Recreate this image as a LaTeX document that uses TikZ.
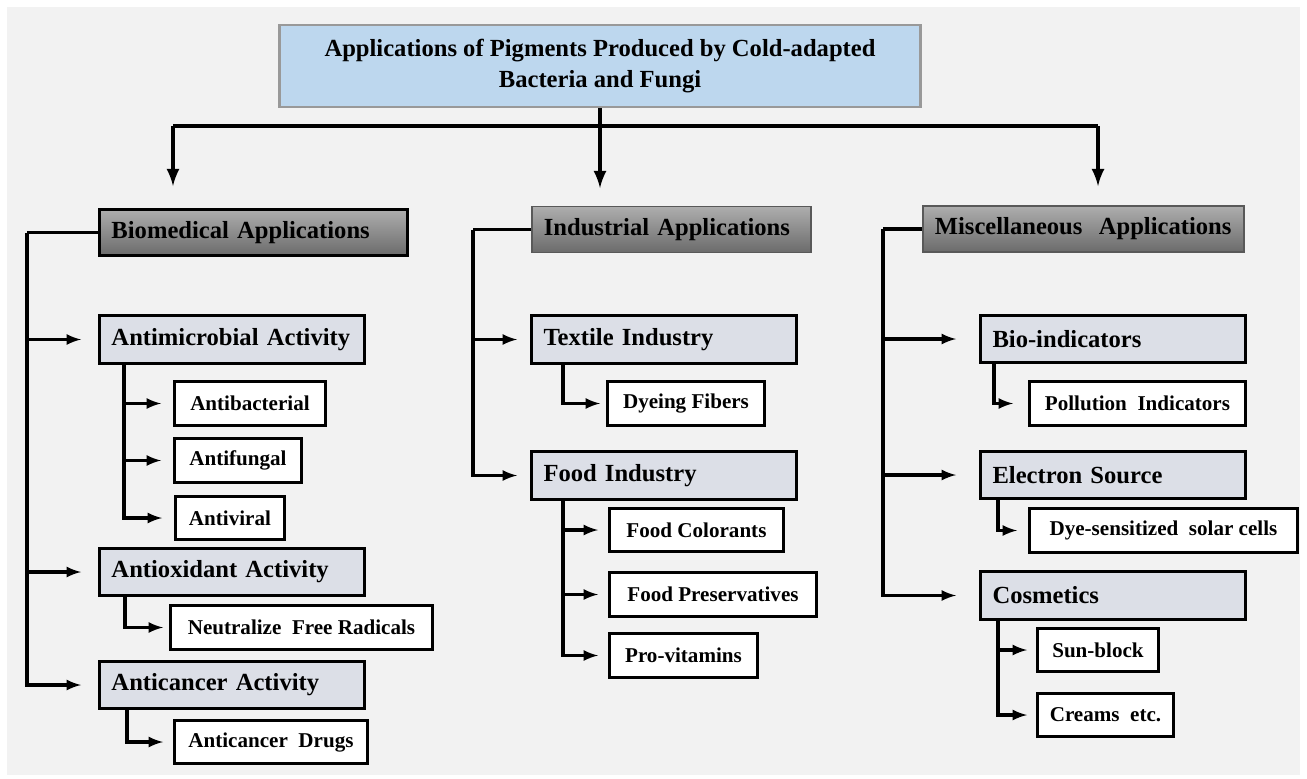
\documentclass[tikz,border=0pt]{standalone}
\usepackage{fontspec}
\setmainfont{Liberation Serif}
\usetikzlibrary{
  calc,
  positioning,
  arrows
}
\tikzset{>=latex}
\definecolor{pagegray}{HTML}{F2F2F2}
\definecolor{headblue}{HTML}{BDD7EE}
\definecolor{subfill}{HTML}{DCDFE7}

\begin{document}
\begin{tikzpicture}[x=0.02cm, y=-0.02cm,
    link/.style = {line width=1.8pt},
    buslink/.style = {line width=2.3pt},
    headbox/.style = {rectangle, draw=black!40, line width=1.3pt, fill=headblue, align=center, minimum width=12.82cm, minimum height=1.64cm, font=\fontsize{14}{18}\selectfont\bfseries},
    catbox/.style = {rectangle, draw=black!65, line width=1pt, top color=black!32, bottom color=black!58, text width=#1, align=left, inner xsep=0.24cm, minimum height=0.92cm, anchor=west, font=\fontsize{14}{17}\selectfont\bfseries},
    subbox/.style = {rectangle, draw, line width=1.7pt, fill=subfill, text width=4.82cm, align=left, inner xsep=0.24cm, minimum height=0.95cm, anchor=west, font=\fontsize{14}{17}\selectfont\bfseries},
    leafbox/.style = {rectangle, draw, line width=1.7pt, fill=white, minimum width=#1, minimum height=0.87cm, inner xsep=0.24cm, anchor=west, font=\fontsize{12}{15}\selectfont\bfseries}]
          % page
          \useasboundingbox (0,0) rectangle (1307,778);
          \fill[pagegray] (7,7) rectangle (1300,775);

          % nodes
          \node[headbox] (head) at (600,66) {Applications of Pigments Produced by Cold-adapted\\Bacteria and Fungi};

          \node[catbox=5.68cm, draw=black, line width=1.7pt] (bio) at (98,232.5) {Biomedical Applications};
          \node[catbox=5.1cm] (ind) at (531,229.5) {Industrial Applications};
          \node[catbox=5.94cm] (misc) at (922,229) {Miscellaneous\ \ Applications};

          \node[subbox] (microb) at (98,339.5) {Antimicrobial Activity};
          \node[leafbox=3.02cm] (bact) at (173,403.5) {Antibacterial};
          \node[leafbox=2.54cm] (fung) at (173,460.5) {Antifungal};
          \node[leafbox=2.18cm] (vir) at (174,518) {Antiviral};
          \node[subbox] (oxid) at (98,572) {Antioxidant Activity};
          \node[leafbox=5.24cm] (radic) at (169,627.5) {Neutralize\ \ Free Radicals};
          \node[subbox] (cancer) at (98,685) {Anticancer Activity};
          \node[leafbox=3.86cm] (drugs) at (173,742) {Anticancer\ \ Drugs};

          \node[subbox] (textile) at (530,339.5) {Textile Industry};
          \node[leafbox=3.14cm] (dyeing) at (606,403.5) {Dyeing\ Fibers};
          \node[subbox] (food) at (530,475.5) {Food Industry};
          \node[leafbox=3.48cm] (colorant) at (608,530) {Food Colorants};
          \node[leafbox=4.14cm] (preserv) at (608,594.5) {Food Preservatives};
          \node[leafbox=2.96cm] (provit) at (608,655.5) {Pro-vitamins};

          \node[subbox] (bioind) at (979,339) {Bio-indicators};
          \node[leafbox=4.32cm] (pollut) at (1028,403.5) {Pollution\ \ Indicators};
          \node[subbox] (electron) at (979,475) {Electron Source};
          \node[leafbox=5.36cm] (solar) at (1028,530.5) {Dye-sensitized\ \ solar\ cells};
          \node[subbox] (cosmet) at (979,595.5) {Cosmetics};
          \node[leafbox=2.42cm] (sunblock) at (1036,650) {Sun-block};
          \node[leafbox=2.72cm] (cream) at (1036,715) {Creams\ \ etc.};

          % bus from the title
          \coordinate (busL) at (173,126);
          \coordinate (busR) at (1098,126);
          \coordinate (tipL) at (173,186);
          \coordinate (tipM) at (600,188);
          \coordinate (tipR) at (1098,186);
          \draw[buslink] (busL) -- (busR);
          \draw[buslink, ->] (head.south) -- (tipM);
          \draw[buslink, ->] (busL) -- (tipL);
          \draw[buslink, ->] (busR) -- (tipR);

          % connections
          \coordinate (bioT) at ([xshift=-1.42cm]bio.west);
          \coordinate (indT) at ([xshift=-1.16cm]ind.west);
          \coordinate (miscT) at ([xshift=-0.78cm]misc.west);
          \draw[link] (bio.west) -- (bioT);
          \draw[link] (ind.west) -- (indT);
          \draw[link] (misc.west) -- (miscT);
          \foreach \n in {microb, oxid, cancer}
            \draw[link, ->, shorten >=0.34cm] (bioT) |- (\n.west);
          \foreach \n in {textile, food}
            \draw[link, ->, shorten >=0.26cm] (indT) |- (\n.west);
          \foreach \n in {bioind, electron, cosmet}
            \draw[link, ->, shorten >=0.46cm] (miscT) |- (\n.west);

          \foreach \n in {bact, fung, vir}
            \draw[link, ->, shorten >=0.24cm] ([xshift=0.52cm]microb.south west) |- (\n.west);
          \draw[link, ->, shorten >=0.12cm] ([xshift=0.54cm]oxid.south west) |- (radic.west);
          \draw[link, ->, shorten >=0.2cm] ([xshift=0.58cm]cancer.south west) |- (drugs.west);
          \draw[link, ->, shorten >=0.12cm] ([xshift=0.66cm]textile.south west) |- (dyeing.west);
          \foreach \n in {colorant, preserv, provit}
            \draw[link, ->, shorten >=0.2cm] ([xshift=0.66cm]food.south west) |- (\n.west);
          \draw[link, ->, shorten >=0.3cm] ([xshift=0.3cm]bioind.south west) |- (pollut.west);
          \draw[link, ->, shorten >=0.22cm] ([xshift=0.38cm]electron.south west) |- (solar.west);
          \foreach \n in {sunblock, cream}
            \draw[link, ->, shorten >=0.18cm] ([xshift=0.38cm]cosmet.south west) |- (\n.west);
\end{tikzpicture}
\end{document}
